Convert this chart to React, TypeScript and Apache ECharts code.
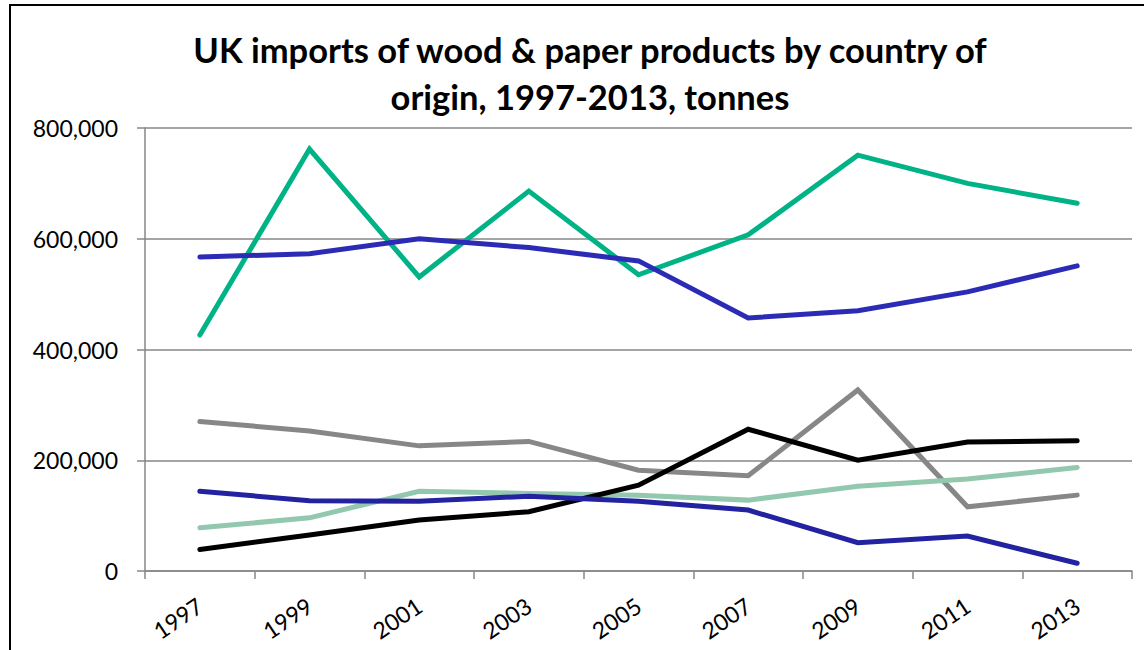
import React, { useEffect, useRef } from "react";
import * as echarts from "echarts";

// Years on the category axis
const years = ["1997", "1999", "2001", "2003", "2005", "2007", "2009", "2011", "2013"];

// Import volumes in tonnes, one array per country line
const tealLine = [426000, 762000, 531000, 686000, 535000, 607000, 751000, 700000, 664000];
const blueUpperLine = [567000, 573000, 600000, 584000, 560000, 457000, 470000, 504000, 551000];
const greyLine = [270000, 253000, 226000, 234000, 182000, 172000, 327000, 116000, 137000];
const blackLine = [39000, 65000, 92000, 107000, 155000, 256000, 200000, 233000, 235000];
const paleGreenLine = [78000, 96000, 144000, 140000, 137000, 128000, 153000, 166000, 187000];
const blueLowerLine = [144000, 127000, 126000, 135000, 126000, 110000, 51000, 63000, 14000];

const yTicks = { min: 0, max: 800000, interval: 200000 };

const FONT = "Lato, 'Open Sans', sans-serif";
const AXIS_GREY = "#878787";

export default function App() {
  const ref = useRef<HTMLDivElement>(null);

  useEffect(() => {
    if (!ref.current) return;
    const chart = echarts.init(ref.current, undefined, { renderer: "svg" });

    const mk = (data: number[], color: string, z: number) => ({
      type: "line" as const,
      data,
      symbol: "none",
      z,
      lineStyle: { color, width: 5, cap: "round" as const, join: "miter" as const },
      itemStyle: { color },
    });

    chart.setOption({
      animation: false,
      backgroundColor: "#ffffff",
      title: {
        text: "UK imports of wood & paper products by country of\norigin, 1997-2013, tonnes",
        left: 585,
        top: 21,
        textAlign: "center",
        textStyle: {
          fontFamily: FONT,
          fontWeight: "bold",
          fontSize: 34.5,
          lineHeight: 47,
          color: "#000000",
        },
      },
      graphic: [
        {
          type: "rect",
          shape: { x: 10, y: 5, width: 1160, height: 700 },
          style: { fill: "none", stroke: "#000000", lineWidth: 2 },
          silent: true,
          z: 100,
        },
      ],
      grid: { left: 145, right: 12, top: 128, bottom: 79, containLabel: false },
      xAxis: {
        type: "category",
        data: years,
        boundaryGap: true,
        axisLine: { show: true, lineStyle: { color: AXIS_GREY, width: 1.5 } },
        axisTick: { show: true, length: 8, lineStyle: { color: AXIS_GREY, width: 1.5 } },
        axisLabel: {
          rotate: 34,
          margin: 32,
          fontFamily: FONT,
          fontSize: 23,
          color: "#000000",
        },
        splitLine: { show: false },
      },
      yAxis: {
        type: "value",
        min: yTicks.min,
        max: yTicks.max,
        interval: yTicks.interval,
        axisLine: { show: true, lineStyle: { color: AXIS_GREY, width: 1.5 } },
        axisTick: { show: true, length: 8, lineStyle: { color: AXIS_GREY, width: 1.5 } },
        axisLabel: {
          margin: 27,
          fontFamily: FONT,
          fontSize: 23,
          color: "#000000",
          formatter: (v: number) => v.toLocaleString("en-GB"),
        },
        splitLine: { show: true, lineStyle: { color: AXIS_GREY, width: 1.5 } },
      },
      series: [
        mk(greyLine, "#878787", 2),
        mk(tealLine, "#00B386", 3),
        mk(blueUpperLine, "#2C2BB5", 4),
        mk(paleGreenLine, "#92C8AE", 5),
        mk(blackLine, "#000000", 6),
        mk(blueLowerLine, "#2322A0", 7),
      ],
    });

    return () => chart.dispose();
  }, []);

  return (
    <div
      ref={ref}
      style={{ position: "absolute", left: 0, top: 0, width: 1144, height: 650 }}
    />
  );
}
